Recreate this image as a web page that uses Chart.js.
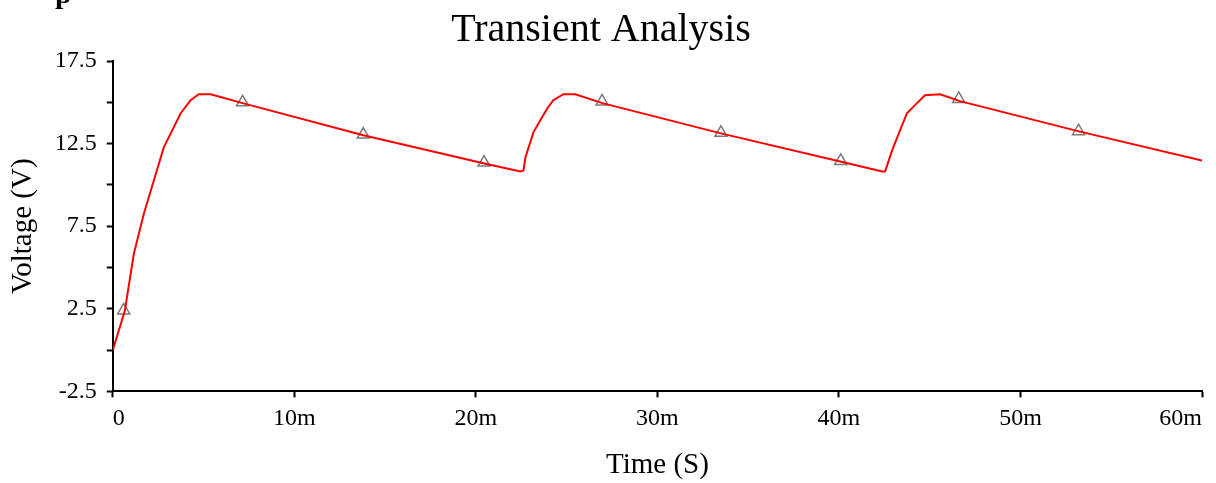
<!DOCTYPE html>
<html>
<head>
<meta charset="utf-8">
<script src="https://cdn.jsdelivr.net/npm/chart.js@4/dist/chart.umd.min.js"></script>
<style>
    html, body { margin: 0; padding: 0; background: #fff; }
    #wrap { position: relative; width: 1216px; height: 483px; overflow: hidden; }
    #frag { position: absolute; left: 55px; top: -22px; font: bold 30px/30px "Liberation Serif", serif; color: #000; }
</style>
</head>
<body>
<div id="wrap">
    <canvas id="transientChart" width="1216" height="483"></canvas>
    <div id="frag">p</div>
</div>
<script>
// time in ms (axis labels use "m"), voltage in V
const timeMs = [0, 0.66, 1.16, 1.71, 2.26, 2.81, 3.19, 3.74, 4.29, 4.73, 5.39, 7.15, 13.8, 20.47, 22.45,
    22.62, 22.73, 23.17, 23.55, 23.94, 24.27, 24.82, 25.48, 26.97, 33.5, 40.07, 42.38,
    42.54, 42.93, 43.37, 43.75, 44.19, 44.74, 45.57, 46.67, 53.22, 60];
const voltage = [0, 2.36, 5.83, 8.26, 10.27, 12.27, 13.12, 14.34, 15.13, 15.49, 15.49, 14.95, 13.0, 11.3, 10.81,
    10.87, 11.66, 13.18, 13.91, 14.64, 15.13, 15.49, 15.49, 14.95, 13.12, 11.42, 10.81,
    10.81, 12.09, 13.31, 14.34, 14.83, 15.43, 15.49, 15.07, 13.24, 11.48];

// triangle markers on the trace
const markerTime = [0.6, 7.15, 13.8, 20.45, 26.95, 33.5, 40.1, 46.6, 53.2];
const markerVolt = [2.4, 15.0, 13.05, 11.35, 15.05, 13.15, 11.45, 15.2, 13.25];

const xTicks = [0, 10, 20, 30, 40, 50, 60];
const yLabelled = [-2.5, 2.5, 7.5, 12.5, 17.5];

const serif = '"Liberation Serif", "Times New Roman", serif';

const ctx = document.getElementById('transientChart').getContext('2d');
new Chart(ctx, {
    type: 'line',
    data: {
        datasets: [
            {
                label: 'V',
                data: timeMs.map((t, i) => ({ x: t, y: voltage[i] })),
                borderColor: '#ff0000',
                borderWidth: 2,
                pointRadius: 0,
                tension: 0,
                fill: false,
            },
            {
                label: 'markers',
                data: markerTime.map((t, i) => ({ x: t, y: markerVolt[i] })),
                showLine: false,
                pointStyle: 'triangle',
                pointRadius: 7,
                borderColor: '#7a7a7a',
                borderWidth: 1.5,
                backgroundColor: 'rgba(0,0,0,0)',
            }
        ]
    },
    options: {
        responsive: false,
        animation: false,
        layout: { padding: { left: 0, right: 14, top: 0, bottom: 0 } },
        plugins: {
            legend: { display: false },
            tooltip: { enabled: false },
            title: {
                display: true,
                text: 'Transient Analysis',
                color: '#000',
                font: { family: serif, size: 40, weight: 'normal' },
                padding: { top: 6, bottom: 7 },
            }
        },
        scales: {
            x: {
                type: 'linear',
                min: 0,
                max: 60,
                afterBuildTicks: scale => { scale.ticks = xTicks.map(v => ({ value: v })); },
                ticks: {
                    align: 'inner',
                    color: '#000',
                    padding: 7,
                    font: { family: serif, size: 24 },
                    callback: v => v === 0 ? '0' : v + 'm',
                },
                grid: { drawOnChartArea: false, tickLength: 6, tickColor: '#000', tickWidth: 2 },
                border: { display: true, color: '#000', width: 2 },
                title: {
                    display: true,
                    text: 'Time (S)',
                    color: '#000',
                    font: { family: serif, size: 29 },
                    padding: { top: 8, bottom: 0 },
                }
            },
            y: {
                min: -2.5,
                max: 17.5,
                ticks: {
                    stepSize: 2.5,
                    color: '#000',
                    padding: 10,
                    font: { family: serif, size: 24 },
                    callback: v => yLabelled.includes(v) ? String(v) : '',
                },
                grid: { drawOnChartArea: false, tickLength: 6, tickColor: '#000', tickWidth: 2 },
                border: { display: true, color: '#000', width: 2 },
                title: {
                    display: true,
                    text: 'Voltage (V)',
                    color: '#000',
                    font: { family: serif, size: 29 },
                    padding: { top: 6, bottom: 4 },
                }
            }
        }
    }
});
</script>
</body>
</html>
